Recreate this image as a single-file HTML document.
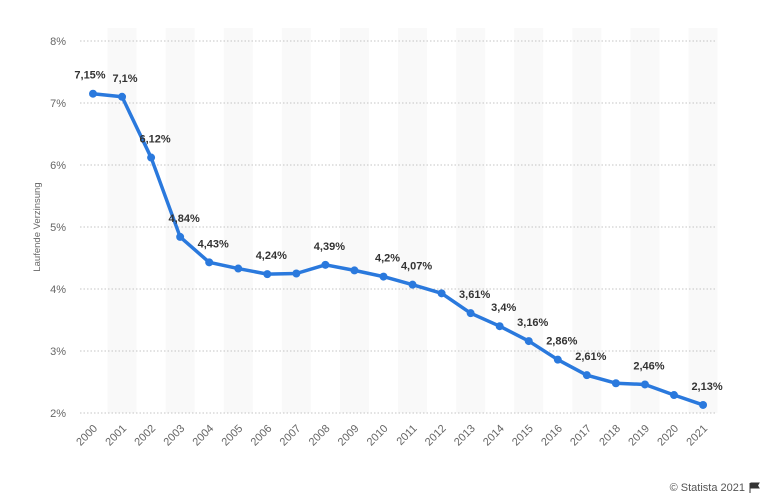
<!DOCTYPE html>
<html><head><meta charset="utf-8"><style>
html,body{margin:0;padding:0;background:#fff;}
svg{display:block;font-family:"Liberation Sans",sans-serif;}
</style></head><body>
<svg width="775" height="503" viewBox="0 0 775 503" xmlns="http://www.w3.org/2000/svg">
<g id="bands" fill="#f9f9f9"></g>
<g id="grid" stroke="#c4c4c4" stroke-width="1" stroke-dasharray="1.5,2"></g>
<g id="ylab" font-size="11" fill="#666" text-anchor="end"></g>
<text transform="translate(40,227) rotate(-90)" font-size="9.5" fill="#666" text-anchor="middle">Laufende Verzinsung</text>
<polyline id="line" fill="none" stroke="#2a79dd" stroke-width="3.5" stroke-linejoin="round"/>
<g id="dots" fill="#2a79dd"></g>
<g id="vlab" font-size="11" font-weight="bold" fill="#333" text-anchor="middle"></g>
<g id="xlab" font-size="11" fill="#666" text-anchor="end"></g>
<text x="745" y="491" font-size="11" fill="#555" text-anchor="end">© Statista 2021</text>
<path d="M750 483v10M751 483h8l-1.5 2.5 1.5 2.5h-8z" fill="#333" stroke="#333" stroke-width="1"/>
</svg>
<script>
const ns="http://www.w3.org/2000/svg";
const vals=[7.15,7.1,6.12,4.84,4.43,4.33,4.24,4.25,4.39,4.3,4.2,4.07,3.93,3.61,3.4,3.16,2.86,2.61,2.48,2.46,2.29,2.13];
const labels={0:"7,15%",1:"7,1%",2:"6,12%",3:"4,84%",4:"4,43%",6:"4,24%",8:"4,39%",10:"4,2%",11:"4,07%",13:"3,61%",14:"3,4%",15:"3,16%",16:"2,86%",17:"2,61%",19:"2,46%",21:"2,13%"};
const X=i=>93+i*29.05, Y=v=>41+(8-v)*62;
function el(t,a,p,txt){const e=document.createElementNS(ns,t);for(const k in a)e.setAttribute(k,a[k]);if(txt)e.textContent=txt;document.getElementById(p).appendChild(e);}
for(let i=1;i<22;i+=2)el("rect",{x:X(i)-14.5,y:28,width:29,height:385},"bands");
for(let v=2;v<=8;v++){el("line",{x1:80,x2:717,y1:Y(v),y2:Y(v)},"grid");el("text",{x:66,y:Y(v)+4},"ylab",v+"%");}
document.getElementById("line").setAttribute("points",vals.map((v,i)=>X(i)+","+Y(v)).join(" "));
vals.forEach((v,i)=>{el("circle",{cx:X(i),cy:Y(v),r:4},"dots");
 if(labels[i]){let dx=i<2?(i==0?-3:3):4;el("text",{x:X(i)+dx,y:Y(v)-15},"vlab",labels[i]);}
 el("text",{transform:`translate(${X(i)+5},${429}) rotate(-45)`},"xlab",String(2000+i));});
</script>
</body></html>
